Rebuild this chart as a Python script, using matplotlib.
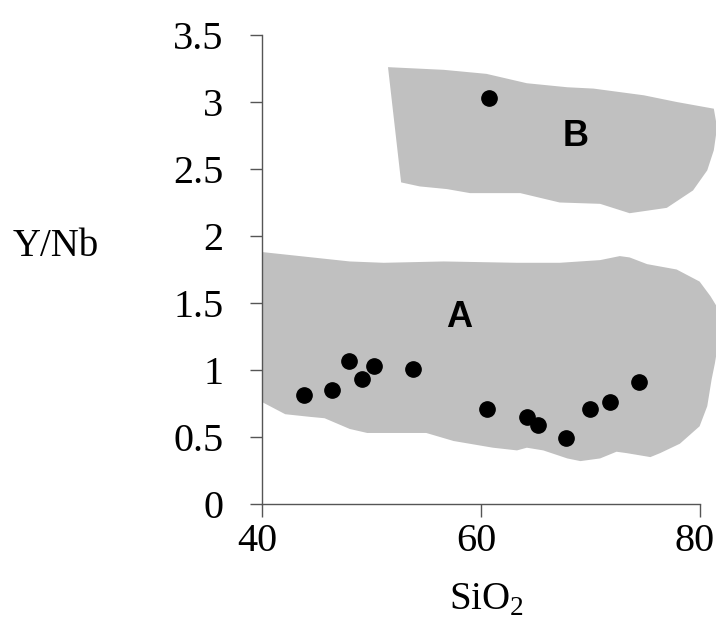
import matplotlib
matplotlib.use("Agg")
import matplotlib.pyplot as plt
import matplotlib.transforms as mtransforms

# sample points (SiO2 wt%, Y/Nb)
sio2 = [43.8, 46.4, 47.9, 49.1, 50.2, 53.8, 60.6, 64.2, 65.2, 67.8, 70.0, 71.8, 74.5, 60.7]
ynb = [0.81, 0.85, 1.07, 0.93, 1.03, 1.01, 0.71, 0.65, 0.59, 0.49, 0.71, 0.76, 0.91, 3.03]

# field A outline
field_a_x = [40.0, 48.0, 51.1, 56.6, 63.3, 67.2, 70.9, 72.7, 73.6, 75.2, 77.9, 80.0, 81.0,
             81.6, 81.7, 81.4, 81.1, 80.7, 80.0, 78.2, 76.4, 75.5, 73.3, 72.4, 70.9, 69.1,
             67.9, 65.7, 64.2, 63.3, 61.1, 57.5, 55.0, 49.6, 48.0, 45.7, 44.4, 42.1, 40.0]
field_a_y = [1.88, 1.81, 1.80, 1.81, 1.80, 1.80, 1.82, 1.85, 1.84, 1.79, 1.75, 1.66, 1.55,
             1.47, 1.20, 1.05, 0.93, 0.73, 0.58, 0.45, 0.38, 0.35, 0.38, 0.39, 0.34, 0.32,
             0.34, 0.40, 0.42, 0.40, 0.42, 0.47, 0.53, 0.53, 0.56, 0.64, 0.65, 0.67, 0.76]

# field B outline
field_b_x = [51.5, 56.6, 60.5, 64.2, 67.9, 70.3, 74.9, 77.9, 81.3, 81.6, 81.3, 80.7, 79.4,
             77.0, 73.6, 70.9, 67.2, 63.6, 59.0, 56.9, 54.4, 52.7]
field_b_y = [3.26, 3.24, 3.21, 3.14, 3.11, 3.10, 3.05, 3.00, 2.95, 2.81, 2.64, 2.49, 2.34,
             2.21, 2.17, 2.24, 2.25, 2.32, 2.32, 2.35, 2.37, 2.40]

plt.rcParams['font.family'] = ['Liberation Serif', 'DejaVu Serif']
plt.rcParams['mathtext.fontset'] = 'custom'
plt.rcParams['mathtext.rm'] = 'Liberation Serif'

fig = plt.figure(figsize=(7.16, 6.26), dpi=100)
ax = fig.add_axes([0.3663, 0.1949, 0.6337, 0.7492])

ax.fill(field_a_x, field_a_y, color='#c0c0c0', lw=0, zorder=1)
ax.fill(field_b_x, field_b_y, color='#c0c0c0', lw=0, zorder=1)
ax.plot(sio2, ynb, 'o', color='black', ms=11, zorder=3)

ax.text(58.0, 1.39, 'A', fontsize=26, fontweight='bold', family='Liberation Sans',
        ha='center', va='center')
ax.text(68.7, 2.74, 'B', fontsize=26, fontweight='bold', family='Liberation Sans',
        ha='center', va='center')

ax.set_xlim(40, 81.5)
ax.set_ylim(0, 3.5)
ax.set_xticks([40, 60, 80])
ax.set_yticks([0, 0.5, 1, 1.5, 2, 2.5, 3, 3.5])
ax.set_yticklabels(['0', '0.5', '1', '1.5', '2', '2.5', '3', '3.5'])

for s in ['top', 'right']:
    ax.spines[s].set_visible(False)
for s in ['left', 'bottom']:
    ax.spines[s].set_color('#555555')
    ax.spines[s].set_linewidth(1)
ax.spines['bottom'].set_bounds(40, 80)
ax.spines['left'].set_bounds(0, 3.5)

ax.tick_params(axis='x', length=9, width=1, color='#555555', labelsize=29, pad=5)
ax.tick_params(axis='y', length=9, width=1, color='#555555', labelsize=29, pad=19)

# x tick labels sit a little left of their ticks in the original
shift = mtransforms.ScaledTranslation(-5 / 100, 0, fig.dpi_scale_trans)
for lbl in ax.get_xticklabels():
    lbl.set_transform(lbl.get_transform() + shift)

ax.set_xlabel('SiO$_2$', fontsize=28)
ax.xaxis.set_label_coords(0.495, -0.165)
ax.set_ylabel('Y/Nb', fontsize=28, rotation=0, ha='center', va='center')
ax.yaxis.set_label_coords(-0.455, 0.548)

fig.savefig('out.png', dpi=100)
